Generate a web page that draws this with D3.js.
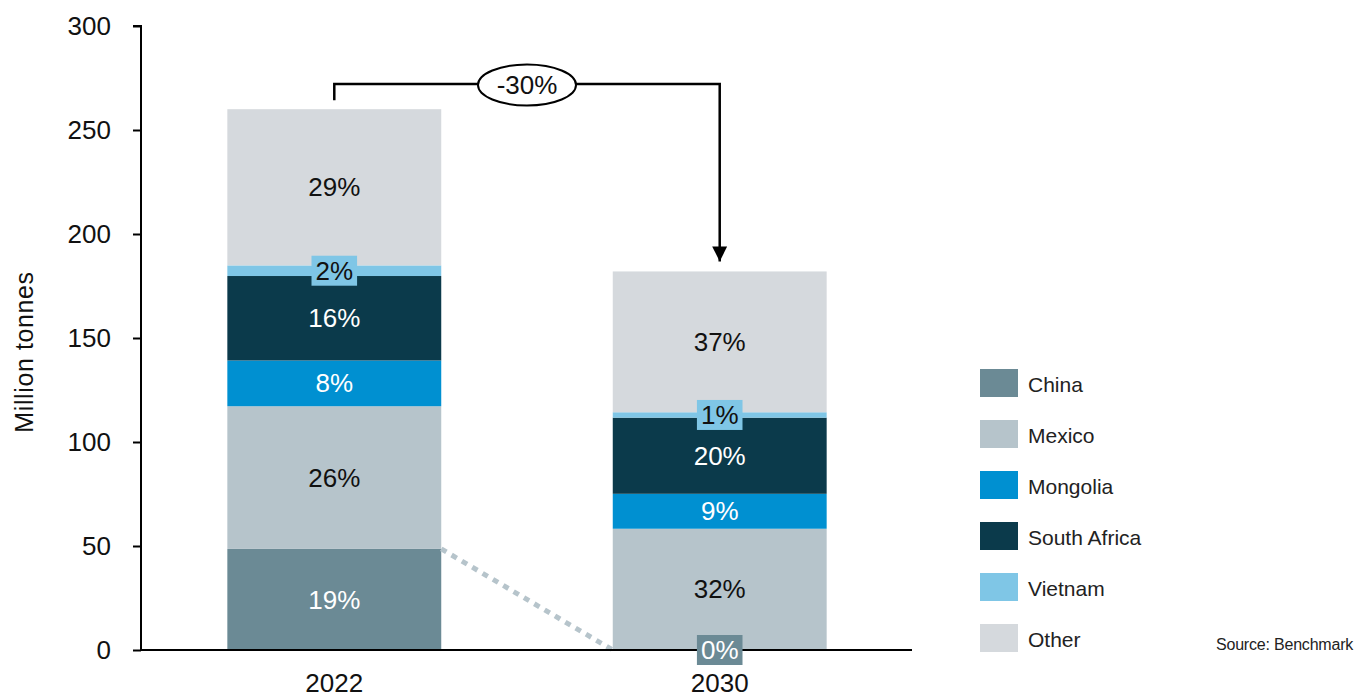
<!DOCTYPE html>
<html>
<head>
<meta charset="utf-8">
<script src="https://cdn.jsdelivr.net/npm/d3@7"></script>
<style>
  html, body { margin: 0; padding: 0; background: #fff; }
  svg { display: block; font-family: "Liberation Sans", Arial, sans-serif; }
</style>
</head>
<body>
<svg id="chart" width="1357" height="698"></svg>
<script>
// ---- Data ----
const years = ["2022", "2030"];
const countries = ["China", "Mexico", "Mongolia", "South Africa", "Vietnam", "Other"];
const values2022 = [48.6, 68.6, 22.0, 40.6, 5.1, 75.1];
const values2030 = [0.0, 58.3, 16.8, 36.6, 2.6, 67.7];
const pctLabels2022 = ["19%", "26%", "8%", "16%", "2%", "29%"];
const pctLabels2030 = ["0%", "32%", "9%", "20%", "1%", "37%"];
const colors = ["#6b8a95", "#b6c4cb", "#0090d1", "#0b3a4b", "#7fc6e6", "#d5d9dd"];
const yTicks = [0, 50, 100, 150, 200, 250, 300];
const changeLabel = "-30%";
const yTitle = "Million tonnes";
const sourceText = "Source: Benchmark";
// small segments get a label with a coloured box
const boxedLabel = (yi, ci) => (ci === 4) || (ci === 0 && yi === 1);

// ---- Layout ----
const svg = d3.select("#chart");
const x = d3.scaleBand().domain(years).range([141, 913]).paddingInner(0.445).paddingOuter(0.224);
const y = d3.scaleLinear().domain([0, 300]).range([650, 26]);
const color = d3.scaleOrdinal().domain(countries).range(colors);

const rows = years.map((yr, i) => {
  const vals = i === 0 ? values2022 : values2030;
  const o = { year: yr };
  countries.forEach((c, j) => o[c] = vals[j]);
  return o;
});
const series = d3.stack().keys(countries)(rows);

// bars
const g = svg.append("g");
series.forEach((s, ci) => {
  g.selectAll(null).data(s).join("rect")
    .attr("x", d => x(d.data.year))
    .attr("width", x.bandwidth())
    .attr("y", d => y(d[1]))
    .attr("height", d => Math.max(0, y(d[0]) - y(d[1])))
    .attr("fill", color(countries[ci]));
});

// dotted connector from top of China 2022 to the 2030 base
const chinaTop2022 = series[0][0][1];
const chinaTop2030 = series[0][1][1];
svg.append("line")
  .attr("x1", x("2022") + x.bandwidth()).attr("y1", y(chinaTop2022))
  .attr("x2", x("2030")).attr("y2", y(chinaTop2030))
  .attr("stroke", colors[1]).attr("stroke-width", 5)
  .attr("stroke-dasharray", "6,6");

// y axis
const yAxis = d3.axisLeft(y).tickValues(yTicks).tickSize(8).tickPadding(22);
const ya = svg.append("g").attr("transform", "translate(141,0)").call(yAxis);
ya.select(".domain").attr("stroke", "#000").attr("stroke-width", 2).attr("d", `M-8,${y(300)}H0V${y(0)}`);
ya.selectAll(".tick line").attr("stroke", "#000").attr("stroke-width", 2);
ya.selectAll(".tick text").attr("font-size", 26).attr("fill", "#111").attr("font-family", "Liberation Sans, Arial, sans-serif");

// x axis
const xAxis = d3.axisBottom(x).tickSize(0).tickPadding(24);
const xa = svg.append("g").attr("transform", `translate(0,${y(0)})`).call(xAxis);
xa.select(".domain").attr("stroke", "#000").attr("stroke-width", 2).attr("d", "M141,0H912");
xa.selectAll(".tick text").attr("font-size", 26).attr("fill", "#111").attr("font-family", "Liberation Sans, Arial, sans-serif");

// segment labels
const lbl = svg.append("g");
years.forEach((yr, yi) => {
  const labs = yi === 0 ? pctLabels2022 : pctLabels2030;
  series.forEach((s, ci) => {
    const d = s[yi];
    const cx = x(yr) + x.bandwidth() / 2;
    const cy = (y(d[0]) + y(d[1])) / 2;
    const dark = (ci === 0 || ci === 2 || ci === 3);
    if (boxedLabel(yi, ci)) {
      const t = lbl.append("text").attr("x", cx).attr("y", cy).attr("dy", "0.35em")
        .attr("text-anchor", "middle").attr("font-size", 26).text(labs[ci]);
      const bb = t.node().getBBox();
      lbl.insert("rect", () => t.node())
        .attr("x", cx - (bb.width + 8) / 2).attr("y", cy - 15)
        .attr("width", bb.width + 8).attr("height", 30)
        .attr("fill", colors[ci]);
      t.attr("fill", dark ? "#fff" : "#111");
    } else {
      lbl.append("text").attr("x", cx).attr("y", cy).attr("dy", "0.35em")
        .attr("text-anchor", "middle").attr("font-size", 26)
        .attr("fill", dark ? "#fff" : "#111").text(labs[ci]);
    }
  });
});

// change annotation
const total2022 = d3.sum(values2022), total2030 = d3.sum(values2030);
const ax1 = x("2022") + x.bandwidth() / 2, ax2 = x("2030") + x.bandwidth() / 2;
const topY = 84;
svg.append("defs").append("marker").attr("id", "arr")
  .attr("viewBox", "0 0 10 10").attr("refX", 10).attr("refY", 5)
  .attr("markerWidth", 15).attr("markerHeight", 15).attr("markerUnits", "userSpaceOnUse")
  .attr("orient", "auto")
  .append("path").attr("d", "M0,0L10,5L0,10Z").attr("fill", "#000");
svg.append("path")
  .attr("d", `M${ax1},${y(total2022) - 9}V${topY}H${ax2}V${y(total2030) - 10}`)
  .attr("fill", "none").attr("stroke", "#000").attr("stroke-width", 2.5)
  .attr("marker-end", "url(#arr)");
const ex = 527;
svg.append("ellipse").attr("cx", ex).attr("cy", topY + 1).attr("rx", 49).attr("ry", 20.5)
  .attr("fill", "#fff").attr("stroke", "#000").attr("stroke-width", 2);
svg.append("text").attr("x", ex).attr("y", topY + 1).attr("dy", "0.35em")
  .attr("text-anchor", "middle").attr("font-size", 26).attr("fill", "#111").text(changeLabel);

// y title
svg.append("text").attr("transform", `translate(33,352) rotate(-90)`)
  .attr("text-anchor", "middle").attr("font-size", 25).attr("letter-spacing", 0.6)
  .attr("fill", "#111").text(yTitle);

// legend
const leg = svg.append("g").attr("transform", "translate(980,369)");
countries.forEach((c, i) => {
  const gi = leg.append("g").attr("transform", `translate(0,${i * 51})`);
  gi.append("rect").attr("width", 38).attr("height", 28).attr("fill", colors[i]);
  gi.append("text").attr("x", 48).attr("y", 16).attr("dy", "0.35em")
    .attr("font-size", 21).attr("fill", "#222").text(c);
});

// source
svg.append("text").attr("x", 1216).attr("y", 650).attr("font-size", 16)
  .attr("letter-spacing", -0.2).attr("fill", "#222").text(sourceText);
</script>
</body>
</html>
